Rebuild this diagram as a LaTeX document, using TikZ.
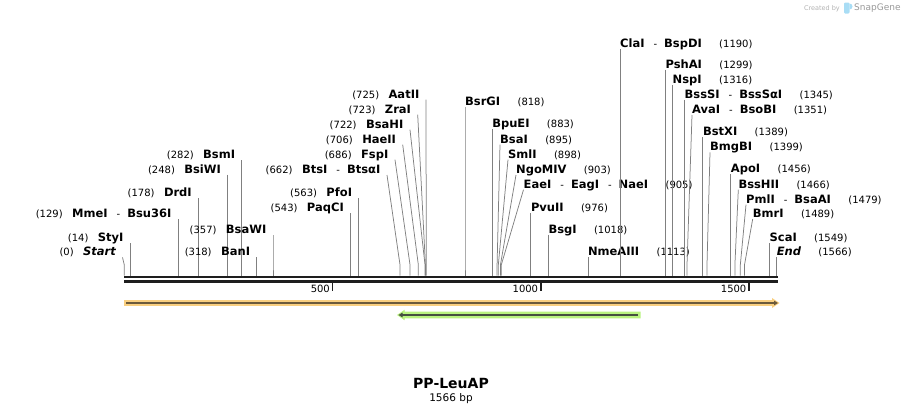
\documentclass[tikz,border=0pt]{standalone}
\usepackage{fontspec}
\setmainfont{DejaVu Sans}
\usetikzlibrary{arrows.meta}
\definecolor{orangefeat}{HTML}{F9CF80}
\definecolor{orangeline}{HTML}{6B5A3C}
\definecolor{greenfeat}{HTML}{B9F27F}
\definecolor{greenline}{HTML}{454F40}
\definecolor{sitegray}{HTML}{808080}
\definecolor{rulerblack}{HTML}{1E1E1E}
\definecolor{logoblue}{HTML}{A9DDF5}
\newcommand\sepx{\hspace{9pt}{\mdseries\fontsize{10}{11}\selectfont -}\hspace{7pt}}
\begin{document}
\begin{tikzpicture}[x=1pt,y=-1pt,
  nm/.style={font=\fontsize{11.5}{13}\selectfont\bfseries, inner sep=0pt},
  numlbl/.style={font=\fontsize{10}{11}\selectfont, inner sep=0pt},
  siteline/.style={draw=sitegray, line width=0.75pt},
  rulerbar/.style={draw=rulerblack, line width=2.7pt},
  tickmark/.style={draw=rulerblack, line width=1.6pt}]
\useasboundingbox (0,0) rectangle (902,415);

% ruler
\coordinate (ra0) at (124,277);
\coordinate (ra1) at (778,277);
\coordinate (rb0) at (124,281.4);
\coordinate (rb1) at (778,281.4);
\draw[rulerbar] (ra0) -- (ra1);
\draw[rulerbar] (rb0) -- (rb1);
\foreach \t in {500,1000,1500}{
  \pgfmathsetmacro\xs{124.3+0.4165*\t}
  \coordinate (tk\t-a) at (\xs,283);
  \coordinate (tk\t-b) at (\xs,291);
  \draw[tickmark] (tk\t-a) -- (tk\t-b);
  \node[numlbl, anchor=base east] (tk\t-lbl) at (\xs-2.5,292) {\t};
}

% left labels
\foreach \p/\xt/\yc/\nm [count=\i] in {
  0/122.5/251.7/{\itshape Start},
  14/-1/237.3/StyI,
  129/-1/213.3/{MmeI\sepx Bsu36I},
  178/-1/192.3/DrdI,
  248/-1/169/BsiWI,
  282/-1/154.3/BsmI,
  318/-1/251.7/BanI,
  357/-1/229.3/BsaWI,
  543/-1/207.3/PaqCI,
  563/-1/192.3/PfoI,
  662/387/169.3/{BtsI\sepx BtsαI},
  686/395/154/FspI,
  706/402.7/139/HaeII,
  722/410/124/BsaHI,
  723/417.7/109/ZraI,
  725/426/94/AatII}{
  \pgfmathsetmacro\xs{124.3+0.4165*\p}
  \pgfmathsetmacro\xtop{\xt<0 ? \xs : \xt}
  \pgfmathsetmacro\ytop{\yc+5.7}
  \coordinate (L\i-top) at (\xtop,\ytop);
  \coordinate (L\i-bend) at (\xs,265);
  \coordinate (L\i-site) at (\xs,275.6);
  \node[nm, anchor=base east] (L\i-name) at (\xtop-6.5,\yc+4.2) {\nm};
  \node[numlbl, anchor=base east] (L\i-num) at ([xshift=-9pt]L\i-name.base west) {(\p)};
  \draw[siteline] (L\i-top) -- (L\i-bend) -- (L\i-site);
}

% right labels
\foreach \p/\xt/\yc/\nm [count=\i] in {
  818/-1/101.7/BsrGI,
  883/-1/123.3/BpuEI,
  895/500/139/BsaI,
  898/508/154/SmlI,
  903/516/169.3/NgoMIV,
  905/523.5/184/{EaeI\sepx EagI\sepx NaeI},
  976/-1/207.3/PvuII,
  1018/-1/229/BsgI,
  1113/-1/251.7/NmeAIII,
  1190/-1/43.3/{ClaI\sepx BspDI},
  1299/-1/64/PshAI,
  1316/-1/79.3/NspI,
  1345/-1/94/{BssSI\sepx BssSαI},
  1351/692/109.3/{AvaI\sepx BsoBI},
  1389/-1/131.7/BstXI,
  1399/710/146.7/BmgBI,
  1456/-1/168.5/ApoI,
  1466/738.3/184/BssHII,
  1479/746/199/{PmlI\sepx BsaAI},
  1489/752.7/213.3/BmrI,
  1549/-1/237.3/ScaI,
  1566/-1/251.7/{\itshape End}}{
  \pgfmathsetmacro\xs{124.3+0.4165*\p}
  \pgfmathsetmacro\xtop{\xt<0 ? \xs : \xt}
  \pgfmathsetmacro\ytop{\yc+5.7}
  \coordinate (R\i-top) at (\xtop,\ytop);
  \coordinate (R\i-bend) at (\xs,265);
  \coordinate (R\i-site) at (\xs,275.6);
  \node[nm, anchor=base west] (R\i-name) at (\xtop,\yc+4.2) {\nm};
  \node[numlbl, anchor=base west] (R\i-num) at ([xshift=17pt]R\i-name.base east) {(\p)};
  \draw[siteline] (R\i-top) -- (R\i-bend) -- (R\i-site);
}

% features
\coordinate (of0) at (124,303);
\coordinate (of1) at (779,303);
\fill[orangefeat] (124,300) -- (772,300) -- (772,298) -- (779.5,303) -- (772,308) -- (772,305.8) -- (124,305.8) -- cycle;
\draw[orangeline, line width=1.7pt, -{Triangle[length=4pt,width=4.5pt]}] ([xshift=2pt]of0) -- ([xshift=-1pt]of1);

\coordinate (gf0) at (397.5,315);
\coordinate (gf1) at (640.7,315);
\fill[greenfeat] (640.7,311.7) -- (404.5,311.7) -- (404.5,309.8) -- (397,315) -- (404.5,320.2) -- (404.5,318.3) -- (640.7,318.3) -- cycle;
\draw[greenline, line width=1.7pt, -{Triangle[length=4pt,width=4.5pt]}] ([xshift=-2.5pt]gf1) -- ([xshift=1pt]gf0);

% title
\node[font=\fontsize{14}{16}\selectfont\bfseries, inner sep=0pt] (title) at (451,383) {PP-LeuAP};
\node[font=\fontsize{10.5}{12}\selectfont, inner sep=0pt] (bp) at (451,399) {1566 bp};

% watermark
\node[font=\fontsize{6.5}{7}\selectfont, text=black!30, inner sep=0pt, anchor=base east] (wm1) at (840,10) {Created by};
\fill[logoblue, rounded corners=1.2pt] (844,2.5) rectangle (849.5,13.5);
\fill[logoblue] (849.5,3.5) arc[start angle=90, end angle=-90, radius=3pt];
\node[font=\fontsize{9}{10}\selectfont, text=black!40, inner sep=0pt, anchor=base west] (wm2) at (854,10.5) {SnapGene};
\end{tikzpicture}
\end{document}
